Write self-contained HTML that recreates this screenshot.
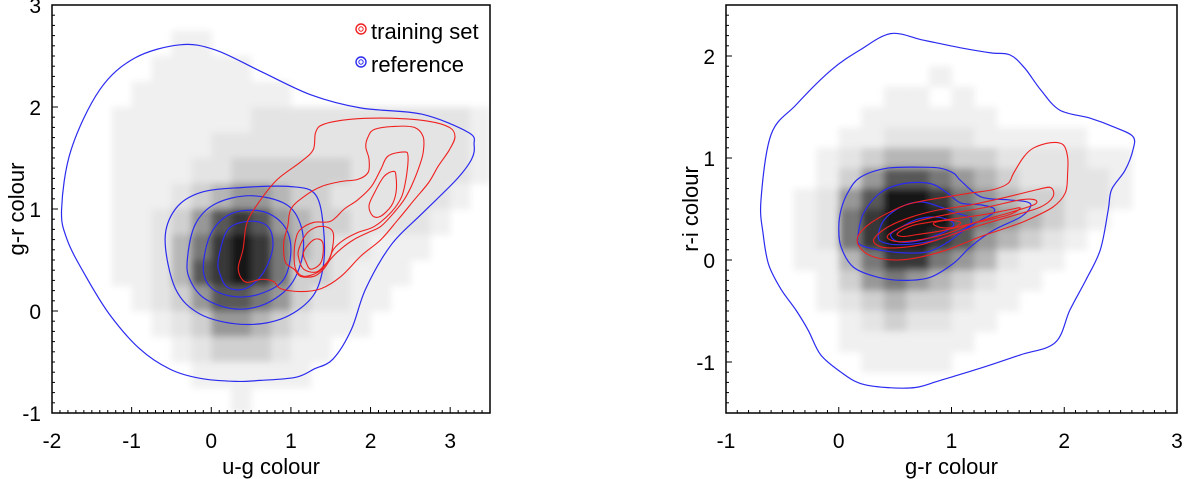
<!DOCTYPE html>
<html><head><meta charset="utf-8"><style>
html,body{margin:0;padding:0;background:#fff}
svg{display:block}
text{font-family:"Liberation Sans",Arial,sans-serif;fill:#000}
</style></head><body>
<svg id="chart" width="1200" height="479" viewBox="0 0 1200 479" xmlns="http://www.w3.org/2000/svg">
<defs>
<filter id="blur" x="-5%" y="-5%" width="110%" height="110%"><feGaussianBlur stdDeviation="3.5"/></filter>
<clipPath id="clipL"><rect x="52" y="5" width="438" height="408"/></clipPath>
<clipPath id="clipR"><rect x="726" y="5" width="451" height="408"/></clipPath>
</defs>
</svg>
<script>
// ---------- DATA: left panel (u-g vs g-r) ----------
const leftXTicks = [-2,-1,0,1,2,3];
const leftYTicks = [-1,0,1,2,3];
// density grid rows (top y=3 -> bottom y=-1), step 0.25; cols x=-2..3.5 step 0.25; levels 0-9
const leftDensity = [
"0000000000000000000000",
"0000001100000000000000",
"0000011111000000000000",
"0000111111110000000000",
"0001111111222222222221",
"0001111122222222222221",
"0001111223333332222221",
"0001112345543322222210",
"0001123578754332222100",
"0001124689864322111000",
"0001124789863321110000",
"0000123577653221100000",
"0000012355432111000000",
"0000001233321100000000",
"0000000111111000000000",
"0000000001000000000000"];
const leftBlue = [
[[-1.88,1.00],[-1.76,1.58],[-1.40,2.17],[-0.96,2.48],[-0.39,2.61],[0.05,2.56],[0.62,2.35],[1.25,2.12],[1.88,1.99],[2.64,1.93],[3.23,1.75],[3.30,1.63],[3.27,1.49],[3.08,1.29],[2.64,0.95],[2.26,0.65],[1.94,0.22],[1.76,-0.18],[1.53,-0.47],[1.29,-0.57],[1.06,-0.65],[0.62,-0.68],[0.30,-0.69],[-0.14,-0.66],[-0.52,-0.57],[-0.90,-0.37],[-1.28,-0.03],[-1.59,0.36],[-1.81,0.70]],
[[-0.58,0.70],[-0.45,1.00],[-0.14,1.16],[0.37,1.21],[1.00,1.22],[1.31,1.14],[1.41,0.80],[1.40,0.41],[1.25,0.12],[0.87,-0.08],[0.37,-0.13],[-0.14,-0.03],[-0.45,0.22]],
[[-0.30,0.51],[-0.20,0.85],[0.05,1.05],[0.49,1.13],[0.93,1.05],[1.12,0.85],[1.15,0.56],[1.00,0.26],[0.68,0.07],[0.30,0.02],[-0.08,0.12],[-0.27,0.31]],
[[-0.10,0.41],[-0.01,0.75],[0.24,0.95],[0.62,0.98],[0.90,0.85],[1.00,0.61],[0.91,0.31],[0.62,0.17],[0.30,0.14],[0.01,0.22]],
[[0.09,0.51],[0.21,0.80],[0.49,0.88],[0.72,0.82],[0.77,0.61],[0.64,0.36],[0.43,0.22],[0.21,0.23],[0.11,0.36]]];
const leftRed = [
[[0.45,0.87],[0.62,1.09],[0.83,1.29],[1.12,1.46],[1.28,1.58],[1.31,1.75],[1.41,1.83],[1.76,1.88],[2.26,1.89],[2.73,1.86],[2.99,1.80],[3.06,1.71],[2.99,1.58],[2.85,1.42],[2.73,1.26],[2.55,1.09],[2.35,0.90],[2.13,0.70],[1.88,0.54],[1.63,0.34],[1.38,0.22],[1.12,0.19],[0.87,0.22],[0.78,0.29],[0.62,0.31],[0.45,0.28],[0.37,0.33],[0.34,0.43],[0.40,0.61]],
[[1.97,1.71],[2.05,1.78],[2.30,1.81],[2.55,1.80],[2.66,1.71],[2.66,1.55],[2.60,1.39],[2.51,1.22],[2.42,1.09],[2.30,0.97],[2.13,0.83],[1.97,0.77],[1.79,0.70],[1.63,0.61],[1.50,0.51],[1.41,0.41],[1.29,0.34],[1.12,0.34],[1.04,0.41],[0.93,0.48],[0.91,0.67],[0.96,0.83],[1.00,1.00],[1.16,1.12],[1.38,1.22],[1.63,1.27],[1.84,1.29],[1.97,1.36],[1.98,1.49],[1.94,1.61]],
[[2.22,1.52],[2.42,1.56],[2.47,1.52],[2.45,1.32],[2.39,1.12],[2.26,0.97],[2.05,0.83],[1.84,0.77],[1.67,0.70],[1.54,0.61],[1.46,0.48],[1.34,0.38],[1.16,0.34],[1.06,0.41],[1.04,0.54],[1.06,0.70],[1.12,0.80],[1.29,0.87],[1.50,0.88],[1.67,1.00],[1.84,1.09],[2.01,1.22],[2.13,1.39]],
[[2.17,1.32],[2.29,1.37],[2.32,1.32],[2.32,1.16],[2.26,1.03],[2.13,0.93],[2.03,0.93],[1.98,1.03],[2.05,1.16]],
[[1.10,0.61],[1.21,0.77],[1.38,0.83],[1.53,0.77],[1.50,0.54],[1.41,0.44],[1.31,0.38],[1.16,0.41],[1.10,0.51]],
[[1.16,0.58],[1.29,0.70],[1.40,0.67],[1.38,0.48],[1.25,0.41],[1.19,0.48]]];

// ---------- DATA: right panel (g-r vs r-i) ----------
const rightXTicks = [-1,0,1,2,3];
const rightYTicks = [-1,0,1,2];
// rows top y=2.5 -> bottom y=-1.5 step 0.2; cols x=-1..3 step 0.2
const rightDensity = [
"00000000000000000000",
"00000000000000000000",
"00000000000000000000",
"00000000010000000000",
"00000001101000000000",
"00000011111100000000",
"00000112222111110000",
"00001234443322221100",
"00001357765432222100",
"00012579986543322100",
"00012689997654321000",
"00012689987543210000",
"00011468865421100000",
"00001356543211000000",
"00001234332110000000",
"00000123221100000000",
"00000111111000000000",
"00000011110000000000",
"00000000000000000000",
"00000000000000000000"];
const rightBlue = [
[[-0.69,0.59],[-0.60,1.23],[-0.38,1.52],[-0.07,1.86],[0.19,2.06],[0.46,2.22],[0.73,2.16],[0.86,2.13],[1.08,2.08],[1.35,2.03],[1.52,2.01],[1.65,1.88],[1.79,1.67],[1.96,1.47],[2.23,1.39],[2.45,1.30],[2.61,1.21],[2.61,1.08],[2.54,0.88],[2.42,0.69],[2.39,0.49],[2.32,0.10],[2.19,-0.20],[2.05,-0.49],[1.92,-0.81],[1.61,-0.93],[1.26,-1.06],[0.90,-1.18],[0.68,-1.25],[0.42,-1.25],[0.19,-1.21],[0.02,-1.10],[-0.16,-0.93],[-0.27,-0.69],[-0.38,-0.49],[-0.51,-0.29],[-0.62,-0.05],[-0.67,0.25]],
[[0.02,0.49],[0.08,0.66],[0.19,0.81],[0.43,0.90],[0.73,0.91],[0.90,0.90],[1.02,0.85],[1.08,0.78],[1.26,0.62],[1.50,0.59],[1.67,0.57],[1.70,0.52],[1.61,0.42],[1.37,0.29],[1.17,0.13],[1.02,-0.03],[0.81,-0.17],[0.58,-0.20],[0.35,-0.17],[0.13,-0.07],[0.02,0.13],[0.00,0.32]],
[[0.17,0.23],[0.22,0.46],[0.37,0.66],[0.58,0.75],[0.81,0.75],[0.96,0.66],[1.08,0.56],[1.26,0.54],[1.37,0.51],[1.37,0.46],[1.26,0.39],[1.11,0.29],[0.96,0.17],[0.79,0.08],[0.58,0.07],[0.35,0.10],[0.19,0.15]],
[[0.35,0.23],[0.40,0.39],[0.55,0.52],[0.73,0.57],[0.90,0.52],[1.05,0.46],[1.17,0.41],[1.14,0.32],[0.96,0.23],[0.75,0.17],[0.55,0.15],[0.40,0.17]],
[[0.46,0.25],[0.55,0.32],[0.70,0.40],[0.88,0.42],[1.01,0.37],[0.99,0.31],[0.84,0.23],[0.66,0.18],[0.52,0.18]]];
const rightRed = [
[[0.17,0.23],[0.28,0.36],[0.49,0.49],[0.66,0.56],[0.96,0.62],[1.19,0.66],[1.37,0.69],[1.50,0.75],[1.55,0.85],[1.64,1.01],[1.73,1.10],[1.88,1.15],[1.99,1.13],[2.03,1.01],[2.03,0.85],[2.01,0.66],[1.90,0.52],[1.67,0.39],[1.50,0.32],[1.26,0.23],[0.96,0.10],[0.73,0.03],[0.52,0.00],[0.31,0.03],[0.19,0.12]],
[[0.31,0.20],[0.43,0.32],[0.64,0.42],[0.88,0.49],[1.17,0.54],[1.50,0.62],[1.76,0.69],[1.88,0.71],[1.90,0.62],[1.79,0.52],[1.50,0.42],[1.19,0.32],[0.96,0.23],[0.73,0.15],[0.52,0.12],[0.37,0.13]],
[[0.43,0.23],[0.55,0.32],[0.73,0.39],[1.02,0.46],[1.32,0.52],[1.61,0.59],[1.74,0.59],[1.73,0.54],[1.50,0.46],[1.19,0.36],[0.96,0.26],[0.73,0.20],[0.52,0.18]],
[[0.52,0.26],[0.66,0.34],[0.93,0.39],[1.26,0.44],[1.50,0.49],[1.61,0.51],[1.50,0.44],[1.19,0.36],[0.93,0.29],[0.70,0.25],[0.57,0.23]],
[[0.84,0.36],[0.96,0.39],[1.08,0.37],[1.02,0.32],[0.90,0.32]]];

const NS = "http://www.w3.org/2000/svg";
const svg = document.getElementById('chart');
const grayRamp = [255,240,228,208,182,152,120,88,55,25];
function mk(tag, attrs, parent){const e=document.createElementNS(NS,tag);for(const k in attrs)e.setAttribute(k,attrs[k]);(parent||svg).appendChild(e);return e;}
function scale(d0,d1,r0,r1){return v=>r0+(v-d0)*(r1-r0)/(d1-d0);}
function smoothPath(pts,sx,sy){
  const p=pts.map(q=>[sx(q[0]),sy(q[1])]);const n=p.length;let d=`M${p[0][0].toFixed(1)},${p[0][1].toFixed(1)}`;
  for(let i=0;i<n;i++){const p0=p[(i-1+n)%n],p1=p[i],p2=p[(i+1)%n],p3=p[(i+2)%n];
    const c1=[p1[0]+(p2[0]-p0[0])/6,p1[1]+(p2[1]-p0[1])/6],c2=[p2[0]-(p3[0]-p1[0])/6,p2[1]-(p3[1]-p1[1])/6];
    d+=`C${c1[0].toFixed(1)},${c1[1].toFixed(1)} ${c2[0].toFixed(1)},${c2[1].toFixed(1)} ${p2[0].toFixed(1)},${p2[1].toFixed(1)}`;}
  return d+'Z';}

function panel(cfg){
  const {name,x0,x1,y0,y1,px0,px1,py0,py1,density,step,xT,yT,blue,red,xlab,ylab,ylabX,clip}=cfg;
  const sx=scale(x0,x1,px0,px1), sy=scale(y0,y1,py0,py1);
  const g=mk('g',{});
  
  
  const hm=mk('g',{'clip-path':`url(#${clip})`,filter:'url(#blur)'},g);
  
  
  density.forEach((row,ri)=>{
    for(let ci=0;ci<row.length;ci++){
      const lv=+row[ci]; if(!lv) continue;
      const xa=x0+ci*step, yt=y1-ri*step;
      const gv=grayRamp[lv];
      const r=mk('rect',{x:sx(xa),y:sy(yt),width:sx(xa+step)-sx(xa)+0.5,height:sy(yt-step)-sy(yt)+0.5,fill:`rgb(${gv},${gv},${gv})`},hm);
      
      
    }
  });
  const cg=mk('g',{'clip-path':`url(#${clip})`},g);
  blue.forEach(c=>{const p=mk('path',{d:smoothPath(c,sx,sy),fill:'none',stroke:'#2b2bf0','stroke-width':1.2},cg);
    
    });
  red.forEach(c=>{const p=mk('path',{d:smoothPath(c,sx,sy),fill:'none',stroke:'#f02020','stroke-width':1.1},cg);
    
    });
  const fr=mk('rect',{x:px0,y:py1,width:px1-px0,height:py0-py1,fill:'none',stroke:'#000','stroke-width':1.5},g);
  
  
  for(let v=Math.ceil(x0*10);v<=x1*10;v++){const X=sx(v/10);const maj=v%10===0;
    mk('line',{x1:X,x2:X,y1:py0,y2:py0-(maj?6:3),stroke:'#000','stroke-width':1},g);}
  for(let v=Math.ceil(y0*10);v<=y1*10;v++){const Y=sy(v/10);const maj=v%10===0;
    mk('line',{x1:px0,x2:px0+(maj?6:3),y1:Y,y2:Y,stroke:'#000','stroke-width':1},g);}
  xT.forEach(v=>{const t=mk('text',{x:sx(v),y:py0+35,'text-anchor':'middle','font-size':21},g);t.textContent=v;
    
    });
  yT.forEach(v=>{const t=mk('text',{x:px0-11,y:sy(v)+8,'text-anchor':'end','font-size':21},g);t.textContent=v;
    
    });
  const xt=mk('text',{x:(px0+px1)/2,y:474,'text-anchor':'middle','font-size':22},g);xt.textContent=xlab;
  
  
  const yt=mk('text',{x:ylabX,y:(py0+py1)/2,'text-anchor':'middle','font-size':22,transform:`rotate(-90 ${ylabX} ${(py0+py1)/2})`},g);yt.textContent=ylab;
  
  
}
panel({name:'left-panel',x0:-2,x1:3.5,y0:-1,y1:3,px0:52,px1:490,py0:413,py1:5,density:leftDensity,step:0.25,xT:leftXTicks,yT:leftYTicks,blue:leftBlue,red:leftRed,xlab:'u-g colour',ylab:'g-r colour',ylabX:24,clip:'clipL'});
panel({name:'right-panel',x0:-1,x1:3,y0:-1.5,y1:2.5,px0:726,px1:1177,py0:413,py1:5,density:rightDensity,step:0.2,xT:rightXTicks,yT:rightYTicks,blue:rightBlue,red:rightRed,xlab:'g-r colour',ylab:'r-i colour',ylabX:698,clip:'clipR'});

const lg=mk('g',{});


[['training set','#f02020',29],['reference','#2b2bf0',62]].forEach(([lab,col,y])=>{
  const e=mk('g',{},lg);
  
  
  mk('circle',{cx:361,cy:y,r:5,fill:'none',stroke:col,'stroke-width':1.4},e);
  mk('circle',{cx:361,cy:y,r:2.2,fill:'none',stroke:col,'stroke-width':1},e);
  const t=mk('text',{x:371,y:y+10,'font-size':22},e);t.textContent=lab;
});
</script>
</body></html>
